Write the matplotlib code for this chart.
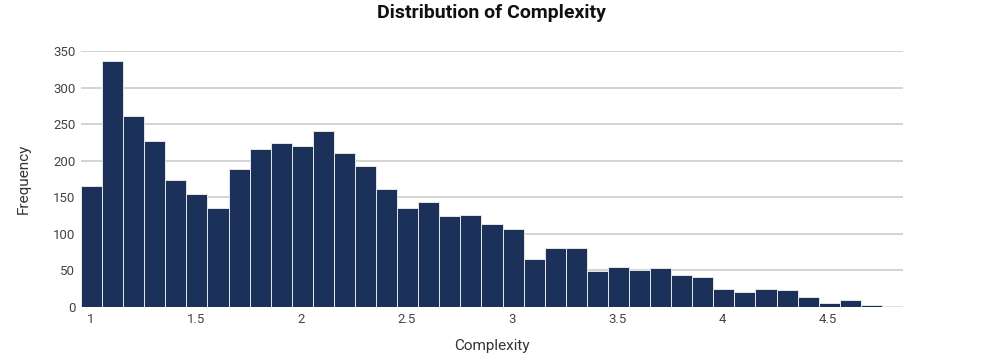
import matplotlib
matplotlib.use("Agg")
import matplotlib.pyplot as plt
import numpy as np

# Data
bin_start = 0.955
bin_width = 0.1
counts = [165, 336, 261, 227, 173, 155, 136, 189, 216, 224,
          220, 241, 210, 193, 161, 135, 144, 124, 126, 114,
          107, 65, 81, 81, 49, 55, 51, 54, 44, 41,
          25, 20, 25, 23, 13, 6, 10, 3, 2]
x_ticks = [1, 1.5, 2, 2.5, 3, 3.5, 4, 4.5]
x_tick_labels = ["1", "1.5", "2", "2.5", "3", "3.5", "4", "4.5"]
y_ticks = [0, 50, 100, 150, 200, 250, 300, 350]

plt.rcParams['font.family'] = ['Roboto', 'DejaVu Sans']

fig = plt.figure(figsize=(9.83, 3.57), dpi=100)
ax = fig.add_axes([81/983, 1 - 307/357, (903 - 81)/983, (307 - 51)/357])

edges = bin_start + bin_width * np.arange(len(counts) + 1)
ax.bar(edges[:-1], counts, width=bin_width, align='edge',
       color='#1b3159', edgecolor='#e6e6e6', linewidth=0.7, zorder=3)

ax.set_xlim(edges[0], edges[-1])
ax.set_ylim(0, 350)
ax.set_xticks(x_ticks)
ax.set_xticklabels(x_tick_labels)
ax.set_yticks(y_ticks)

ax.grid(axis='y', color='#c8c8c8', linewidth=1.1, zorder=0)
ax.grid(axis='x', visible=False)
for s in ax.spines.values():
    s.set_visible(False)
ax.tick_params(axis='both', length=0, labelsize=9.5, colors='#444444', pad=4)

ax.set_xlabel("Complexity", fontsize=11, color='#333333', labelpad=10)
ax.set_ylabel("Frequency", fontsize=11, color='#333333', labelpad=16)

fig.text(491/983, 1 - 13/357, "Distribution of Complexity", ha='center', va='center',
         fontsize=14, fontweight='bold', color='#111111')

fig.savefig("out.png", dpi=100)
